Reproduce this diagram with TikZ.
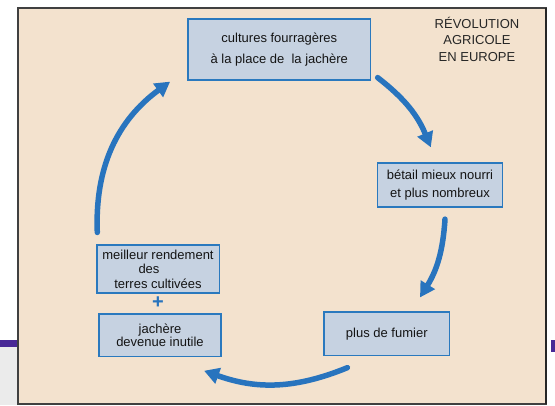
\documentclass[tikz,border=0pt]{standalone}
\usepackage{fontspec}
\setmainfont{Liberation Sans}
\usetikzlibrary{arrows.meta, positioning}
\definecolor{papier}{RGB}{243,226,206}
\definecolor{cadre}{RGB}{42,121,190}
\definecolor{remplir}{RGB}{198,210,225}
\definecolor{fleche}{RGB}{40,116,190}
\definecolor{violet}{RGB}{72,40,150}
\tikzset{%
>={Triangle[width=16pt,length=15pt]},
  % Specifications for style of nodes:
            base/.style = {rectangle, draw=cadre, line width=1.8pt,
                            fill=remplir, inner sep=0pt, text=black!92,
                            font=\fontsize{13}{15}\selectfont},
            titre/.style = {draw=none, fill=none, text=black!85,
                            font=\fontsize{13}{16.5}\selectfont},
            flow/.style = {->, draw=fleche, line width=5.5pt, line cap=round}
}
\begin{document}
\begin{tikzpicture}[x=1pt, y=1pt, node distance=33pt, every node/.style={base}, align=center]
\useasboundingbox (0,0) rectangle (555,405);
% page behind the panel
\fill[white] (0,0) rectangle (555,405);
\fill[violet] (0,58) rectangle (18,65);
\fill[violet] (551,53) rectangle (555,65);
\fill[black!8] (0,0) rectangle (18,58);
\fill[papier] (18,1) rectangle (546,397);
\draw[black!75, line width=1.2pt] (18,1) rectangle (546,397);
\draw[black!85, line width=2pt] (546,1) -- (546,397);
% boxes
\node (fourrage) at (279.3,355.5) [minimum width=182.5pt, minimum height=61pt,
  font=\fontsize{13}{21.7}\selectfont]{cultures fourragères\\à la place de~ la jachère};
\node (betail) at (440,220.2) [minimum width=125pt, minimum height=43.7pt,
  font=\fontsize{13}{18.3}\selectfont]{bétail mieux nourri\\et plus nombreux};
\node (fumier) at (386.8,71.2) [minimum width=125.5pt, minimum height=43.5pt]{plus de fumier};
\node (rendement) at (158,135.8) [minimum width=122.8pt, minimum height=48.3pt,
  font=\fontsize{13}{14.6}\selectfont]{meilleur rendement\\des\rule{18pt}{0pt}\\terres cultivées};
\node (plus)[below of=rendement, draw=none, fill=none, text=fleche,
  font=\fontsize{20}{20}\bfseries]{+};
\node (jachere)[below of=plus, xshift=2pt, minimum width=121.7pt, minimum height=42.7pt,
  font=\fontsize{13}{13.5}\selectfont]{jachère\\devenue inutile};
\node (titre) at (477,366) [titre]{RÉVOLUTION\\AGRICOLE\\EN EUROPE};
% cycle arrows
\draw[flow] ([shift={(6.2,3.3)}]fourrage.south east) to[bend left=15]
  ([shift={(54.2,14.7)}]betail.north west);
\draw[flow] ([shift={(5,-11.6)}]betail.south) to[bend left=14]
  ([shift={(33.2,13.7)}]fumier.north);
\draw[flow] ([shift={(24.3,-11.2)}]fumier.south west) to[bend left=21]
  ([shift={(-17.7,-13.3)}]jachere.south east);
\draw[flow] ([shift={(1.6,11.7)}]rendement.north west) to[bend left=28]
  ([shift={(-17,-0.7)}]fourrage.south west);
\end{tikzpicture}
\end{document}
